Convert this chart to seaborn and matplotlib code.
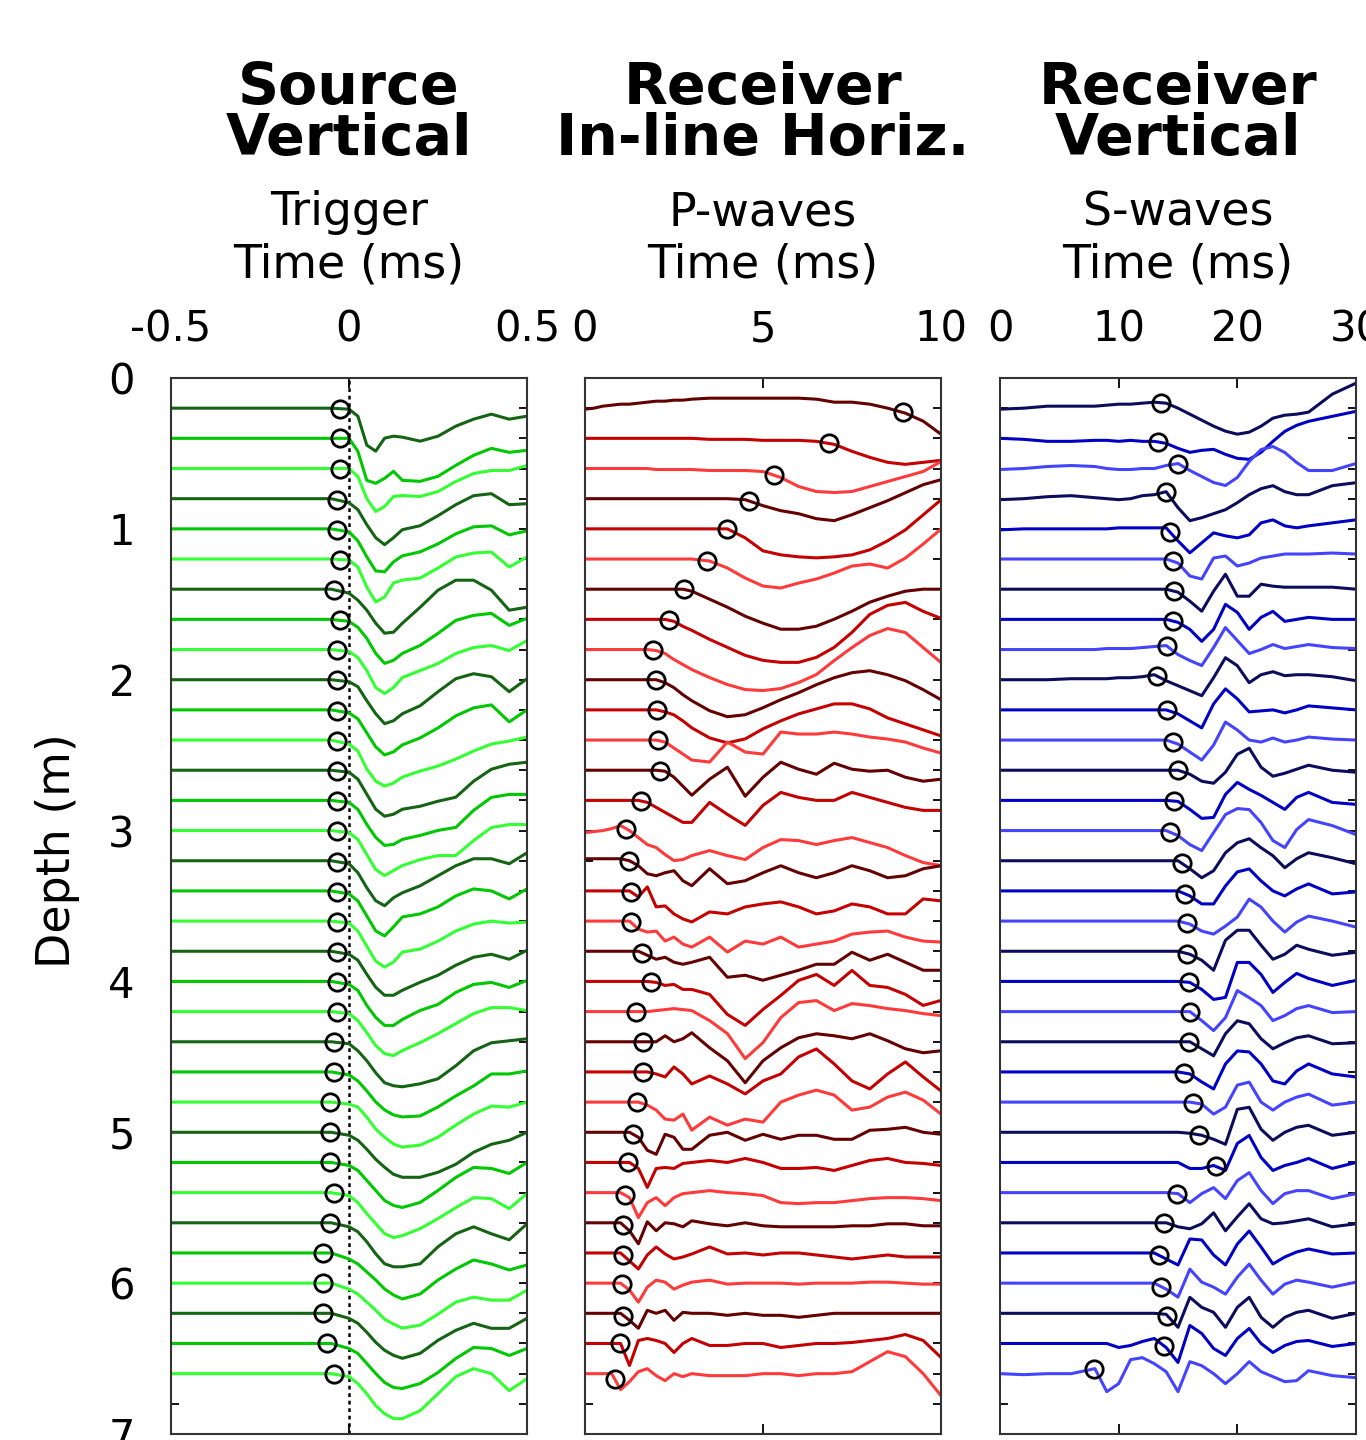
import numpy as np
import pandas as pd
import matplotlib
matplotlib.use('Agg')
import matplotlib.pyplot as plt
from matplotlib.ticker import MultipleLocator
import seaborn as sns

sns.set_style('ticks')
plt.rcParams['font.family'] = ['DejaVu Sans']
plt.rcParams['axes.unicode_minus'] = False
plt.rcParams['text.color'] = 'black'
plt.rcParams['xtick.color'] = 'black'
plt.rcParams['ytick.color'] = 'black'
plt.rcParams['lines.solid_joinstyle'] = 'round'

# trace depths (m)
depths = [0.2, 0.4, 0.6, 0.8, 1.0, 1.2, 1.4, 1.6, 1.8, 2.0, 2.2, 2.4, 2.6, 2.8, 3.0, 3.2,
          3.4, 3.6, 3.8, 4.0, 4.2, 4.4, 4.6, 4.8, 5.0, 5.2, 5.4, 5.6, 5.8, 6.0, 6.2, 6.4, 6.6]

# amplitudes below are in screen pixels of deflection (downward positive)
gain = 7 / 1056

# ---- Source vertical (trigger) ----
src_time = [-0.5, -0.1, -0.05, 0, 0.025, 0.05, 0.075, 0.1, 0.125, 0.15, 0.2, 0.25, 0.3, 0.35, 0.4, 0.45, 0.5]
src_traces = [
    [0, 0, 0, 1, 8, 37, 43, 30, 28, 29, 33, 28, 18, 11, 6, 11, 8],
    [0, 0, 0, 0, 13, 42, 45, 40, 33, 42, 43, 38, 27, 17, 10, 14, 12],
    [0, 0, 0, 0, 8, 30, 43, 38, 28, 27, 28, 23, 13, 5, 2, 2, -3],
    [0, 0, 0, 4, 11, 26, 39, 46, 39, 31, 27, 17, 6, -3, -5, 6, 5],
    [0, 0, 0, 3, 12, 28, 42, 43, 33, 27, 23, 15, 5, -2, -3, 6, 2],
    [0, 0, 0, 1, 8, 28, 43, 38, 24, 21, 19, 9, -2, -6, -7, 8, -2],
    [0, 0, 0, 4, 11, 21, 34, 44, 43, 34, 18, 1, -9, -9, 1, 21, 18],
    [0, 0, 0, 2, 8, 19, 34, 44, 41, 34, 26, 14, 1, -4, -6, 6, -1],
    [0, 0, 0, 2, 8, 21, 38, 44, 38, 28, 21, 14, 4, -2, -4, 1, -9],
    [0, 0, 0, 2, 7, 21, 34, 44, 41, 34, 26, 12, -1, -6, -3, 12, -1],
    [0, 0, 0, 3, 9, 23, 37, 45, 42, 35, 28, 18, 6, -2, -5, 12, 0],
    [0, 0, 0, 4, 11, 29, 41, 46, 43, 37, 31, 26, 19, 11, 4, 1, -3],
    [0, 0, 0, 2, 9, 24, 39, 46, 44, 39, 36, 31, 27, 11, -1, -6, -8],
    [0, 0, 0, 2, 9, 24, 37, 45, 44, 39, 35, 30, 27, 10, -3, -6, -6],
    [0, 0, 0, 2, 9, 24, 39, 45, 40, 35, 29, 25, 25, 10, -3, -6, -6],
    [0, 0, 0, 3, 12, 27, 40, 45, 37, 32, 25, 15, 5, -2, -2, 3, -8],
    [0, 0, 0, 3, 10, 25, 40, 45, 36, 26, 23, 16, 5, -2, 0, 8, -2],
    [0, 0, 0, 2, 10, 25, 40, 46, 41, 31, 28, 20, 10, 3, 0, 2, 1],
    [0, 0, 0, 3, 9, 23, 36, 44, 44, 39, 31, 24, 14, 6, 3, 8, -1],
    [0, 0, 0, 3, 9, 24, 36, 44, 44, 38, 29, 23, 11, 3, 1, 6, -1],
    [0, 0, 0, 2, 9, 21, 34, 42, 44, 39, 31, 22, 12, 2, -4, -4, -1],
    [0, 0, 0, 2, 9, 19, 31, 41, 44, 45, 42, 37, 24, 9, 1, -1, -3],
    [0, 0, 0, 3, 9, 19, 30, 38, 43, 45, 44, 35, 24, 14, 2, 2, -1],
    [0, 0, 0, 2, 5, 15, 27, 35, 42, 45, 43, 35, 23, 12, 4, 5, 0],
    [0, 0, 0, 3, 8, 17, 27, 35, 42, 45, 45, 40, 32, 20, 12, 8, 0],
    [0, 0, 0, 3, 8, 18, 28, 38, 43, 45, 40, 28, 15, 5, 6, 11, 0],
    [0, 0, 0, 3, 10, 21, 31, 41, 45, 43, 36, 26, 15, 5, 6, 16, 1],
    [0, 0, 0, 4, 9, 19, 31, 41, 44, 44, 41, 24, 11, 4, 11, 17, 1],
    [0, 0, 0, 6, 11, 19, 27, 36, 42, 46, 41, 27, 16, 7, 11, 17, 12],
    [0, 0, 0, 6, 11, 19, 27, 36, 41, 45, 42, 31, 19, 14, 17, 17, 7],
    [0, 0, 0, 5, 10, 19, 29, 37, 42, 45, 40, 27, 17, 10, 15, 15, 5],
    [0, 0, 0, 5, 10, 20, 30, 39, 44, 45, 40, 29, 15, 4, 5, 12, 5],
    [0, 0, 0, 3, 10, 20, 32, 40, 45, 45, 37, 20, 3, -5, 0, 17, 5],
]
src_picks = [-0.025, -0.025, -0.025, -0.034, -0.034, -0.025, -0.042, -0.025, -0.034, -0.034, -0.034,
             -0.034, -0.034, -0.034, -0.034, -0.034, -0.034, -0.034, -0.034, -0.034, -0.034, -0.042,
             -0.042, -0.053, -0.053, -0.053, -0.042, -0.053, -0.073, -0.073, -0.073, -0.062, -0.042]

# ---- Receiver in-line horizontal (P-waves) ----
p_time = [0, 0.25, 0.5, 0.75, 1, 1.25, 1.5, 1.75, 2, 2.25, 2.5, 2.75, 3, 3.5, 4, 4.5, 5,
          5.5, 6, 6.5, 7, 7.5, 8, 8.5, 9, 9.5, 10]
p_traces = [
    [1, 0, -2, -3, -4, -4, -5, -6, -7, -7, -8, -8, -9, -10, -10, -10, -10, -10, -10, -9, -6, -6, -4, 0, 5, 13, 26],
    [0, 0, 0, 0, 0, 0, 0, 0, 0, 0, 0, 0, 0, 1, 1, 1, 2, 2, 2, 3, 6, 13, 19, 24, 26, 24, 22],
    [0, 0, 0, 0, 0, 0, 0, 0, 1, 1, 1, 1, 1, 2, 2, 2, 3, 9, 18, 23, 24, 23, 18, 13, 8, 3, -7],
    [0, 0, 0, 0, 0, 0, 0, 0, 0, 0, 0, 0, 0, 0, 0, 1, 7, 12, 15, 20, 22, 16, 9, 2, -6, -14, -19],
    [0, 0, 0, 0, 0, 0, 0, 0, 0, 0, 0, 0, 0, 0, 0, 9, 22, 26, 28, 29, 28, 26, 21, 12, 1, -14, -29],
    [0, 0, 0, 0, 0, 0, 0, 0, 0, 0, 0, 0, 0, 2, 9, 19, 27, 29, 24, 20, 14, 7, 5, 9, -1, -15, -30],
    [0, 0, 0, 0, 0, 0, 0, 0, 0, 0, 0, 0, 2, 10, 18, 27, 34, 40, 40, 37, 30, 22, 13, 7, 2, 0, 0],
    [0, 0, 0, 0, 0, 0, 0, 0, 0, 0, 2, 7, 11, 20, 28, 36, 41, 43, 43, 38, 28, 13, -5, -14, -17, -8, -1],
    [0, 0, 0, 0, 0, 0, 0, 0, 1, 4, 10, 15, 20, 28, 35, 40, 41, 39, 33, 25, 11, -2, -14, -21, -17, -2, 13],
    [0, 0, 0, 0, 0, 0, 0, 0, 0, 3, 8, 15, 21, 31, 37, 35, 28, 20, 13, 5, -2, -7, -9, -5, 1, 10, 20],
    [0, 0, 0, 0, 0, 0, 0, 0, 0, 2, 5, 11, 18, 28, 33, 29, 19, 11, 4, -1, -6, -6, -1, 8, 14, 20, 26],
    [0, 0, 0, 0, 0, 0, 0, 0, 0, 2, 8, 14, 20, 22, 2, 12, 14, -8, -6, -6, -8, -6, -3, -1, 2, 8, 13],
    [0, 0, 0, 0, 0, 0, 0, 0, 0, 1, 7, 16, 25, 9, -3, 26, 7, -8, -1, 4, -7, -1, 1, 0, 7, 11, 9],
    [0, 0, 0, 0, 0, 0, 0, 2, 7, 12, 17, 22, 22, 2, 14, 25, 5, -8, -3, 0, 0, -8, -3, 2, 7, 10, 10],
    [2, 1, 0, -2, -5, 0, 7, 14, 17, 24, 30, 29, 25, 20, 25, 29, 17, 9, 10, 14, 10, 7, 12, 17, 25, 32, 35],
    [-2, -2, -2, -2, -2, 0, 5, 13, 15, 12, 10, 20, 25, 8, 23, 20, 12, 5, 12, 17, 12, 5, 10, 17, 15, 8, 5],
    [0, 0, 0, 0, 0, 0, 6, -4, 16, 15, 23, 28, 31, 21, 23, 16, 13, 11, 16, 23, 20, 13, 16, 23, 23, 8, 10],
    [0, 0, 0, 0, 0, 0, 8, 11, 10, 20, 16, 23, 26, 16, 31, 20, 23, 16, 26, 23, 20, 13, 11, 10, 16, 20, 21],
    [0, 0, 0, 0, 0, 0, 0, 4, 8, 6, 11, 13, 11, 6, 26, 24, 29, 24, 19, 13, 13, 1, 9, 3, 11, 19, 19],
    [0, 0, 0, 0, 0, 0, 0, 0, 1, 4, 3, 8, 8, 13, 33, 44, 28, 14, -1, -7, 4, -11, 4, 6, 13, 24, 19],
    [0, 0, 0, 0, 0, 0, 0, 0, -1, -2, -3, -2, -1, 9, 22, 47, 31, 6, -9, -11, -1, -8, -6, -3, -1, 2, 4],
    [0, 0, 0, 0, 0, 0, 0, 0, 0, -6, 0, -3, -9, 6, 19, 41, 19, 6, -4, -8, -6, -3, -8, -1, 7, 11, 9],
    [0, 0, 0, 0, 0, 0, 0, 0, 2, 5, -5, 2, 12, 4, 12, 22, 9, 2, -15, -23, -8, 9, 17, 2, -10, 5, 19],
    [0, 0, 0, 0, 0, 0, 0, 3, 8, 17, 18, 12, 28, 15, 23, 17, 20, 0, -7, -12, -7, 8, 5, -5, -10, -2, 12],
    [0, 0, 0, 0, 0, 0, 5, 18, 22, 2, 5, 17, 17, 3, 0, 8, 2, 7, 3, 3, 7, 7, -2, -3, -5, 0, 2],
    [0, 0, 0, 0, 0, 0, 6, 25, 6, 5, 6, 1, 0, -2, 0, -4, 0, 6, 6, 5, 8, 3, -2, -4, 0, 1, 3],
    [0, 0, 0, 0, 0, 5, 25, 10, 5, 13, 5, 1, 0, -2, 0, 1, 3, 10, 11, 10, 10, 8, 6, 5, 5, 6, 8],
    [0, 0, 0, 0, 0, 8, 21, -1, 8, 0, 1, 4, -2, 1, 3, 0, 3, 4, 4, 4, 4, 3, 3, 1, 1, 3, 3],
    [0, 0, 0, 0, 0, 8, 16, 2, -6, 1, 6, 4, 1, -6, 1, 0, 2, 0, 0, 2, 4, 6, 4, 2, 4, 4, 4],
    [0, 0, 0, 0, 0, 7, 19, 4, -3, -1, 6, 2, -1, -3, 1, 0, 0, 0, 1, 0, 0, 0, -1, -1, 0, 1, 1],
    [0, 0, 0, 0, 0, 7, 15, -3, 0, -3, 7, -1, 0, 0, 2, 0, 2, 2, 4, 2, 0, 0, 0, 0, 0, 0, 0],
    [0, 0, 0, 0, 0, 22, -3, -5, -3, 0, 9, 0, -5, 2, 2, 0, 0, 4, 2, 0, 0, -1, -3, -5, -9, -3, 14],
    [0, 0, 0, 0, 16, 8, -2, -5, 2, 7, 0, 3, 0, 2, 2, 2, 0, 0, 2, 0, 0, -2, -12, -22, -17, 0, 22],
]
p_picks = [8.92, 6.85, 5.3, 4.6, 4.0, 3.43, 2.77, 2.35, 1.91, 2.0, 2.02, 2.04, 2.11, 1.58, 1.15, 1.24, 1.29,
           1.29, 1.6, 1.86, 1.44, 1.62, 1.62, 1.46, 1.34, 1.22, 1.11, 1.08, 1.06, 1.03, 1.08, 0.99, 0.83]

# ---- Receiver vertical (S-waves) ----
s_time = [0, 2, 4, 6, 8, 9, 10, 11, 12, 13, 14, 15, 16, 17, 18, 19, 20, 21, 22, 23, 24, 25, 26, 28, 30]
s_traces = [
    [1, 0, -2, -2, -2, -3, -4, -4, -5, -6, -5, 0, 6, 12, 18, 23, 26, 24, 18, 10, 7, 6, 4, -14, -25],
    [0, 1, 3, 3, 2, 2, 3, 2, 3, 3, 5, 10, 14, 12, 11, 16, 20, 21, 14, 3, -7, -13, -17, -22, -27],
    [1, 0, -2, -3, -2, 0, 1, 1, 0, 0, -3, -5, 2, 8, 14, 17, 9, -7, -19, -22, -16, -6, 2, 2, -5],
    [1, 0, -2, -3, -1, 0, 1, 0, -3, -4, -7, 9, 22, 19, 15, 11, 4, -4, -10, -13, -7, -4, -4, -13, -16],
    [1, 0, 0, 0, 0, 0, -1, -1, -1, -1, -1, 12, 24, 14, 4, 7, 9, 6, -6, -9, -3, -1, -3, -6, -9],
    [0, 0, 0, 0, 0, 0, 0, 0, 0, 0, 0, 4, 17, 20, -1, -3, 7, 4, -1, -3, -5, -5, -5, -6, -5],
    [0, 0, 0, 0, 0, 0, 0, 0, 0, 0, 0, 3, 12, 22, 2, -15, 7, 7, -5, -3, -2, -2, -2, -2, 0],
    [0, 0, 0, 0, 0, 0, 0, 0, 0, 0, 0, 3, 10, 22, 10, -15, -7, 10, -2, -8, 2, 0, -2, 0, 0],
    [0, 0, 0, 0, 0, -1, -1, -1, -2, -3, -4, 5, 11, 16, -2, -22, -9, 4, 0, -5, -1, -3, -5, -2, -1],
    [0, 0, 0, -1, -1, -1, -2, -2, -3, -5, 1, 6, 11, 16, -2, -22, -14, 3, -5, -8, -4, -5, -5, -3, 1],
    [0, 0, 0, 0, 0, 0, 0, 0, 0, 0, 0, 4, 11, 18, -6, -21, -11, 2, 1, 0, 3, 0, -4, -2, 0],
    [0, 0, 0, 0, 0, 0, 0, 0, 0, 0, 0, 4, 12, 20, 5, -18, -10, 0, 2, -2, 2, 0, -3, -1, 0],
    [0, 0, 0, 0, 0, 0, 0, 0, 0, 0, 0, 0, 4, 11, 13, 2, -16, -22, -3, 6, 3, -1, -5, 0, 2],
    [0, 0, 0, 0, 0, 0, 0, 0, 0, 0, 0, 1, 9, 18, 17, -6, -18, -11, -5, 2, 9, -3, -8, 2, 4],
    [0, 0, 0, 0, 0, 0, 0, 0, 0, 0, 0, 5, 14, 20, 2, -16, -22, -21, -8, 10, 17, -1, -11, -5, 4],
    [0, 0, 0, 0, 0, 0, 0, 0, 0, 0, 0, 0, 8, 17, 10, -8, -18, -22, -13, -5, 7, -2, -8, -3, 3],
    [0, 0, 0, 0, 0, 0, 0, 0, 0, 0, 0, 0, 5, 13, 13, -5, -19, -22, -10, 0, 5, -2, -7, 3, 1],
    [0, 0, 0, 0, 0, 0, 0, 0, 0, 0, 0, 0, 3, 10, 13, 5, -4, -22, -14, 0, 11, 1, -5, 0, 6],
    [0, 0, 0, 0, 0, 0, 0, 0, 0, 0, 0, 0, 3, 9, 19, -11, -21, -21, -6, 8, 3, -6, -2, 4, 1],
    [0, 0, 0, 0, 0, 0, 0, 0, 0, 0, 0, 0, 1, 8, 18, 16, -19, -19, -7, 11, 1, -8, -3, 4, -1],
    [0, 0, 0, 0, 0, 0, 0, 0, 0, 0, 0, 0, 0, 9, 19, 6, -21, -14, -6, 9, 4, -3, -6, 1, 0],
    [0, 0, 0, 0, 0, 0, 0, 0, 0, 0, 0, 0, 0, 7, 14, -8, -21, -18, -3, 7, 1, -4, -6, 2, 1],
    [0, 0, 0, 0, 0, 0, 0, 0, 0, 0, 0, 0, 2, 10, 17, -8, -21, -20, -8, 9, 12, -1, -8, 2, 5],
    [0, 0, 0, 0, 0, 0, 0, 0, 0, 0, 0, 0, 0, 2, 12, 5, -17, -20, 0, 8, 0, -5, -8, 3, 0],
    [0, 0, 0, 0, 0, 0, 0, 0, 0, 0, 0, 0, 1, 3, 7, 12, -23, -25, -3, 8, 0, -5, -7, 3, 0],
    [0, 0, 0, 0, 0, 0, 0, 0, 0, 0, 0, 0, 6, 6, 3, 8, -19, -27, -5, 8, 3, 0, -4, 6, 0],
    [0, 0, 0, 0, 0, 0, 0, 0, 0, 0, 0, 1, 10, 1, -5, 6, -12, -20, -2, 11, 1, -2, -2, 6, 1],
    [0, 0, 0, 0, 0, 0, 0, 0, 0, 0, 0, 4, 6, 1, -10, 8, -6, -19, -4, 1, 0, -2, -4, 4, 1],
    [0, 0, 0, 0, 0, 0, 0, 0, 0, 0, 6, 12, -14, -13, 2, 12, -9, -22, -6, 11, 4, -1, -4, 1, 0],
    [0, 0, 0, 0, 0, 0, 0, 0, 0, 0, 6, 14, -14, -1, 4, 11, -6, -19, -3, 11, 1, -3, -1, 4, -1],
    [0, 0, 0, 0, 0, 0, 0, 0, 0, 0, 1, 14, -16, -6, -1, 14, -6, -16, 4, 14, 4, -1, -3, 5, 0],
    [0, 0, 0, 0, 0, 0, 4, 2, -2, -5, 4, 19, -18, -10, 5, 12, -5, -15, 0, 9, 2, -2, -3, 3, 0],
    [0, 1, 0, 0, -5, 18, 10, -14, -16, -10, -2, 18, -12, -8, 0, 10, 0, -12, -2, 3, 8, 7, -3, 2, 4],
]
s_picks = [13.6, 13.3, 15.0, 14.0, 14.3, 14.6, 14.7, 14.6, 14.1, 13.2, 14.1, 14.6, 15.0, 14.7, 14.3, 15.3, 15.6,
           15.8, 15.8, 15.9, 16.0, 15.9, 15.5, 16.3, 16.8, 18.2, 14.9, 13.8, 13.4, 13.6, 14.1, 13.8, 7.9]

greens = ['#146414', '#00c800', '#33ff33']
reds = ['#640000', '#c40000', '#ff3a3a']
blues = ['#0c0c5c', '#0000c4', '#4444ff']

panels = [
    dict(time=src_time, traces=src_traces, picks=src_picks, shades=greens,
         title=['Source', 'Vertical'], sub='Trigger', xlim=(-0.5, 0.5), xticks=[-0.5, 0, 0.5],
         xlabels=['-0.5', '0', '0.5']),
    dict(time=p_time, traces=p_traces, picks=p_picks, shades=reds,
         title=['Receiver', 'In-line Horiz.'], sub='P-waves', xlim=(0, 10), xticks=[0, 5, 10],
         xlabels=['0', '5', '10']),
    dict(time=s_time, traces=s_traces, picks=s_picks, shades=blues,
         title=['Receiver', 'Vertical'], sub='S-waves', xlim=(0, 30), xticks=[0, 10, 20, 30],
         xlabels=['0', '10', '20', '30']),
]

fig = plt.figure(figsize=(13.66, 14.4), dpi=100)
W, H = 1366, 1440
lefts = [171, 585, 1000]
ax_w, ax_top, ax_bot = 356, 378, 1434

for i, p in enumerate(panels):
    ax = fig.add_axes([lefts[i] / W, 1 - ax_bot / H, ax_w / W, (ax_bot - ax_top) / H])
    rows = []
    for k, (d, amp) in enumerate(zip(depths, p['traces'])):
        assert len(amp) == len(p['time'])
        for t, a in zip(p['time'], amp):
            rows.append((f'tr{k:02d}', t, d + a * gain))
    df = pd.DataFrame(rows, columns=['trace', 'time', 'depth'])
    order = [f'tr{k:02d}' for k in range(len(depths))]
    colors = [p['shades'][k % 3] for k in range(len(depths))]
    if i == 0:
        ax.axvline(0, color='k', ls=(0, (1.5, 1.5)), lw=1.8, zorder=1)
    sns.lineplot(data=df, x='time', y='depth', hue='trace', hue_order=order, palette=colors,
                 estimator=None, sort=False, legend=False, linewidth=2.2, ax=ax, zorder=2)
    # picks sit on the trace
    pick_y = [d + np.interp(tp, p['time'], amp) * gain
              for d, tp, amp in zip(depths, p['picks'], p['traces'])]
    ax.plot(p['picks'], pick_y, 'o', ms=12.5, mfc='none', mec='k', mew=2.0, zorder=3)

    ax.set_xlim(*p['xlim'])
    ax.set_ylim(7, 0)
    ax.set_xticks(p['xticks'])
    ax.set_xticklabels(p['xlabels'])
    ax.set_yticks(range(8))
    ax.yaxis.set_minor_locator(MultipleLocator(0.2))
    ax.tick_params(axis='x', which='both', direction='in', top=True, bottom=True,
                   labeltop=True, labelbottom=False, length=7, width=1.3, pad=20, labelsize=30)
    ax.tick_params(axis='y', which='both', direction='in', left=True, right=True,
                   length=6, width=1.3, labelsize=30, pad=26)
    if i > 0:
        ax.tick_params(axis='y', labelleft=False)
    ax.set_xlabel('')
    ax.set_ylabel('')
    for s in ax.spines.values():
        s.set_linewidth(1.5)
        s.set_color('#333333')

    cx = (lefts[i] + ax_w / 2) / W
    fig.text(cx, 1 - 104 / H, p['title'][0], ha='center', va='baseline', fontsize=41, fontweight='bold')
    fig.text(cx, 1 - 155 / H, p['title'][1], ha='center', va='baseline', fontsize=41, fontweight='bold')
    fig.text(cx, 1 - 225 / H, p['sub'], ha='center', va='baseline', fontsize=33)
    fig.text(cx, 1 - 278 / H, 'Time (ms)', ha='center', va='baseline', fontsize=33)

fig.text(57 / W, 1 - 851 / H, 'Depth (m)', rotation=90, ha='center', va='center', fontsize=33)

fig.savefig('out.png', dpi=100)
